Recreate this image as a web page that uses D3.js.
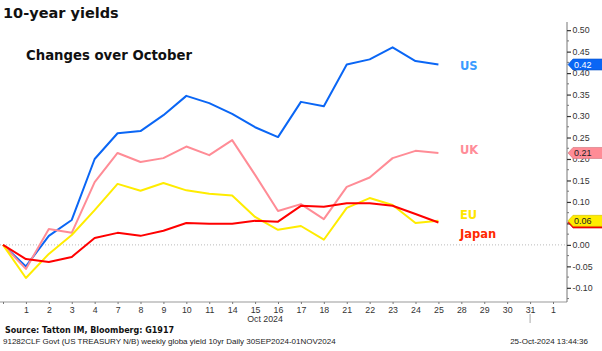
<!DOCTYPE html>
<html>
<head>
<meta charset="utf-8">
<script src="https://cdn.jsdelivr.net/npm/d3@7"></script>
<style>
  body { margin: 0; background: #fff; }
  svg { display: block; }
</style>
</head>
<body>
<script>
// trading days, 30 Sep 2024 .. 1 Nov 2024
const dayLabels = ['', '1', '2', '3', '4', '7', '8', '9', '10', '11', '14', '15', '16', '17', '18',
  '21', '22', '23', '24', '25', '28', '29', '30', '31', '1'];

// change in 10y yield since 30 Sep (pct points)
const usValues = [0, -0.050, 0.021, 0.058, 0.200, 0.260, 0.265, 0.302, 0.347, 0.330, 0.305, 0.274,
  0.251, 0.333, 0.323, 0.420, 0.432, 0.460, 0.428, 0.420];
const ukValues = [0, -0.056, 0.037, 0.028, 0.146, 0.214, 0.193, 0.202, 0.229, 0.209, 0.244, 0.163,
  0.079, 0.095, 0.060, 0.135, 0.157, 0.202, 0.219, 0.214];
const euValues = [0, -0.077, -0.021, 0.023, 0.081, 0.142, 0.126, 0.144, 0.127, 0.119, 0.115, 0.065,
  0.035, 0.044, 0.012, 0.086, 0.109, 0.093, 0.051, 0.056];
const jpValues = [0, -0.033, -0.040, -0.028, 0.016, 0.028, 0.021, 0.033, 0.051, 0.049, 0.049, 0.056,
  0.054, 0.091, 0.089, 0.097, 0.097, 0.091, 0.072, 0.052];

const yTicks = [-0.10, -0.05, 0, 0.05, 0.10, 0.15, 0.20, 0.25, 0.30, 0.35, 0.40, 0.45, 0.50];

const series = [
  { name: 'US', values: usValues, line: '#0a66f5', label: '#3a9bff', tagText: '#fff' },
  { name: 'UK', values: ukValues, line: '#ff8c96', label: '#ff8c98', tagText: '#222' },
  { name: 'EU', values: euValues, line: '#ffec00', label: '#ffe600', tagText: '#222' },
  { name: 'Japan', values: jpValues, line: '#ff0000', label: '#ff2a00', tagText: '#222' }
];

const W = 602, H = 351;
const svg = d3.select('body').append('svg').attr('width', W).attr('height', H);

const x = d3.scaleLinear().domain([0, dayLabels.length - 1]).range([3, 553]);
const y = d3.scaleLinear().domain([-0.133, 0.519]).range([302, 22]);
const axisX = 567;

const fmt = v => d3.format('.2f')(v).replace('\u2212', '-');

// title
svg.append('text').attr('x', 3).attr('y', 17.5)
  .attr('font-family', 'DejaVu Sans').attr('font-weight', 'bold').attr('font-size', 14.5)
  .attr('fill', '#111').text('10-year yields');
svg.append('text').attr('x', 26).attr('y', 59.5)
  .attr('font-family', 'DejaVu Sans').attr('font-weight', 'bold').attr('font-size', 13.25)
  .attr('fill', '#111').text('Changes over October');

// zero line
svg.append('line')
  .attr('x1', 0).attr('x2', axisX).attr('y1', y(0)).attr('y2', y(0))
  .attr('stroke', '#bbb').attr('stroke-dasharray', '1,2');

// bottom axis
const gx = svg.append('g').attr('transform', 'translate(0,' + y.range()[0] + ')')
  .call(d3.axisBottom(x)
    .tickValues(d3.range(dayLabels.length))
    .tickSize(2)
    .tickFormat(i => dayLabels[i]));
gx.select('.domain').attr('d', 'M0,0H' + axisX).attr('stroke', '#999');
gx.selectAll('.tick line').attr('stroke', '#777');
gx.selectAll('.tick text').attr('y', 5)
  .attr('font-family', 'Liberation Sans').attr('font-size', 8.8).attr('fill', '#333');

svg.append('text').attr('x', 265).attr('y', 322).attr('text-anchor', 'middle')
  .attr('font-family', 'Liberation Sans').attr('font-size', 8.8).attr('fill', '#333')
  .text('Oct 2024');
// month separator
svg.append('line').attr('x1', x(23)).attr('x2', x(23)).attr('y1', 314).attr('y2', 323)
  .attr('stroke', '#aaa');

// right axis
const gy = svg.append('g').attr('transform', 'translate(' + axisX + ',0)')
  .call(d3.axisRight(y).tickValues(yTicks).tickSize(4).tickFormat(fmt));
gy.select('.domain').attr('d', 'M0,' + y.range()[1] + 'V' + y.range()[0]).attr('stroke', '#777');
gy.selectAll('.tick line').attr('stroke', '#333').attr('stroke-width', 1.2);
gy.selectAll('.tick text').attr('x', 5.5)
  .attr('font-family', 'Liberation Sans').attr('font-size', 8.8).attr('fill', '#333');
svg.append('g').selectAll('line')
  .data(yTicks.slice(0, -1).map(v => v + 0.025).concat([-0.125]))
  .join('line')
  .attr('x1', axisX).attr('x2', axisX + 2)
  .attr('y1', d => y(d)).attr('y2', d => y(d))
  .attr('stroke', '#777');

// lines
const line = d3.line().x((d, i) => x(i)).y(d => y(d));
svg.append('g').selectAll('path')
  .data(series)
  .join('path')
  .attr('d', d => line(d.values))
  .attr('fill', 'none')
  .attr('stroke', d => d.line)
  .attr('stroke-width', 2)
  .attr('stroke-linejoin', 'round');

// series labels
const labelBase = { US: 69.5, UK: 154, EU: 219, Japan: 237.5 };
svg.append('g').selectAll('text')
  .data(series)
  .join('text')
  .attr('x', 460)
  .attr('y', d => labelBase[d.name])
  .attr('font-family', 'DejaVu Sans').attr('font-weight', 'bold').attr('font-size', 11.5)
  .attr('fill', d => d.label)
  .text(d => d.name);

// last value tags (they sit over the axis labels, as in the source chart)
const tagOrder = [series[0], series[1], series[3], series[2]];
const tags = svg.append('g').selectAll('g')
  .data(tagOrder)
  .join('g')
  .attr('transform', d => 'translate(' + (axisX + 1) + ',' + y(d.values[d.values.length - 1]) + ')');
tags.append('path')
  .attr('d', 'M0,0L5,-5.5H40V5.5H5Z')
  .attr('fill', d => d.line)
  .attr('stroke', d => d3.color(d.line).darker(0.6))
  .attr('stroke-width', 0.6);
tags.append('text')
  .attr('x', 6).attr('y', 3.2)
  .attr('font-family', 'Liberation Sans').attr('font-size', 9)
  .attr('fill', d => d.tagText)
  .text(d => d.name === 'Japan' ? '' : fmt(d.values[d.values.length - 1]));

// footer
svg.append('text').attr('x', 5).attr('y', 333)
  .attr('font-family', 'DejaVu Sans').attr('font-weight', 'bold').attr('font-size', 8)
  .attr('fill', '#111').text('Source: Tatton IM, Bloomberg: G1917');
svg.append('text').attr('x', 3).attr('y', 344)
  .attr('font-family', 'Liberation Sans').attr('font-size', 8)
  .attr('fill', '#222').text('91282CLF Govt (US TREASURY N/B) weekly globa yield 10yr  Daily 30SEP2024-01NOV2024');
svg.append('text').attr('x', 588).attr('y', 343.5).attr('text-anchor', 'end')
  .attr('font-family', 'Liberation Sans').attr('font-size', 8)
  .attr('fill', '#222').text('25-Oct-2024 13:44:36');
</script>
</body>
</html>
